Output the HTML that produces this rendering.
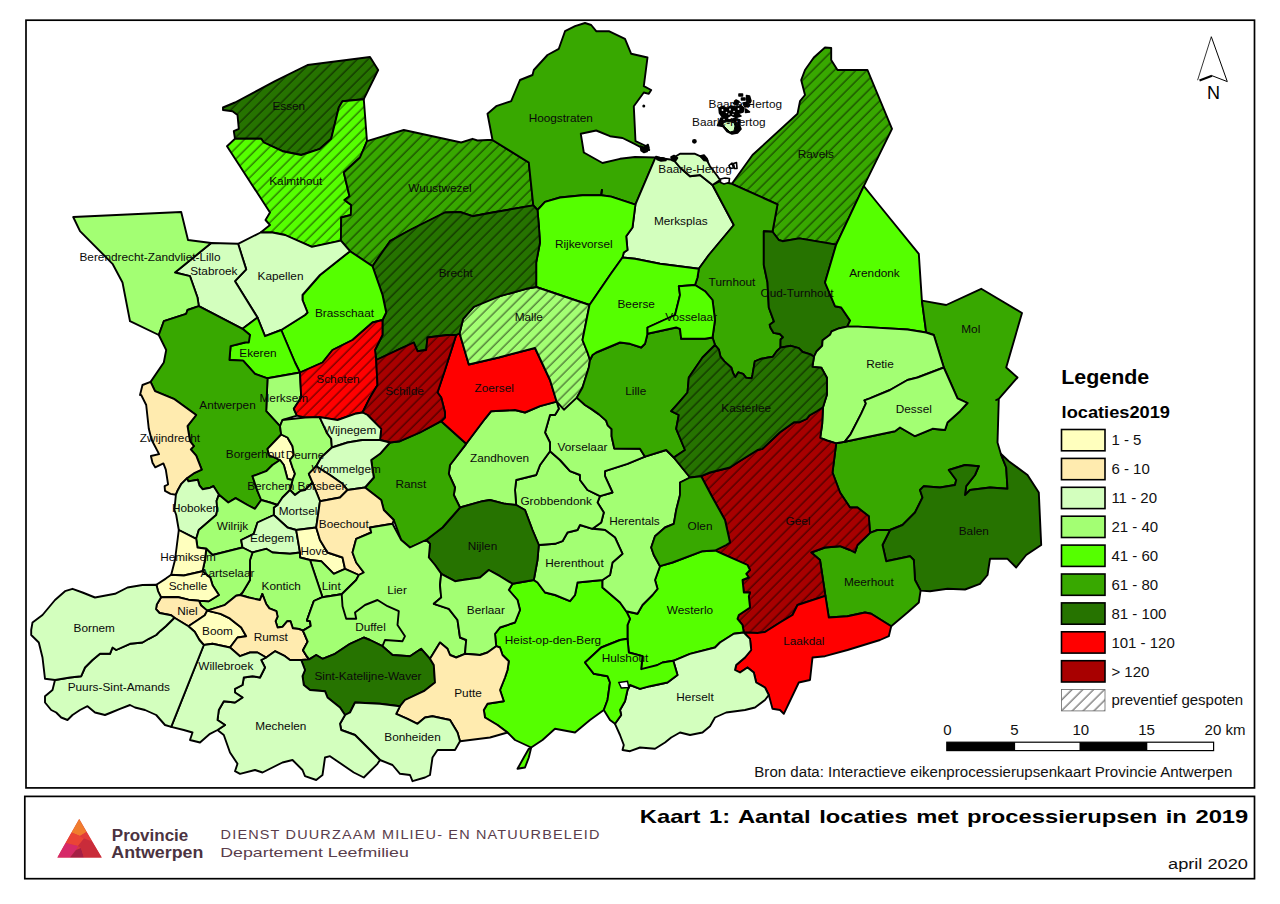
<!DOCTYPE html>
<html><head><meta charset="utf-8"><title>Kaart 1</title>
<style>html,body{margin:0;padding:0;background:#fff}svg{display:block}text{font-family:"Liberation Sans",sans-serif}</style>
</head><body>
<svg width="1280" height="904" viewBox="0 0 1280 904">
<defs>
<pattern id="h" width="7.67" height="7.67" patternUnits="userSpaceOnUse" patternTransform="rotate(45)"><line x1="3" y1="-1" x2="3" y2="9" stroke="#000" stroke-width="0.72"/></pattern>
<clipPath id="mapclip"><rect x="26" y="20" width="1229" height="768"/></clipPath>
</defs>
<rect width="1280" height="904" fill="#fff"/>
<g stroke="#000" stroke-width="1.9" stroke-linejoin="round">
<polygon points="223.0,107.5 235.0,102.5 275.0,81.2 307.5,65.0 370.0,57.0 378.2,70.0 363.8,99.2 342.5,101.2 338.8,107.5 331.2,138.8 320.0,148.8 301.2,155.0 282.5,151.2 263.8,142.5 261.2,138.8 235.0,138.8 233.8,131.2 238.8,128.8 237.5,115.0 232.5,111.2 223.0,110.0" fill="#267300"/>
<polygon points="223.0,107.5 235.0,102.5 275.0,81.2 307.5,65.0 370.0,57.0 378.2,70.0 363.8,99.2 342.5,101.2 338.8,107.5 331.2,138.8 320.0,148.8 301.2,155.0 282.5,151.2 263.8,142.5 261.2,138.8 235.0,138.8 233.8,131.2 238.8,128.8 237.5,115.0 232.5,111.2 223.0,110.0" fill="url(#h)" stroke="none"/>
<polygon points="227.0,146.2 235.0,138.8 261.2,138.8 263.8,142.5 282.5,151.2 301.2,155.0 320.0,148.8 331.2,138.8 338.8,107.5 342.5,101.2 363.8,99.2 367.0,141.2 360.0,157.5 343.8,172.5 349.5,196.2 344.5,200.0 351.2,205.0 350.8,215.0 341.2,217.5 340.9,240.6 311.9,246.9 285.0,235.0 272.5,232.5 260.6,232.5 270.0,225.0 265.5,220.0 270.0,212.5" fill="#55FF00"/>
<polygon points="227.0,146.2 235.0,138.8 261.2,138.8 263.8,142.5 282.5,151.2 301.2,155.0 320.0,148.8 331.2,138.8 338.8,107.5 342.5,101.2 363.8,99.2 367.0,141.2 360.0,157.5 343.8,172.5 349.5,196.2 344.5,200.0 351.2,205.0 350.8,215.0 341.2,217.5 340.9,240.6 311.9,246.9 285.0,235.0 272.5,232.5 260.6,232.5 270.0,225.0 265.5,220.0 270.0,212.5" fill="url(#h)" stroke="none"/>
<polygon points="343.8,172.5 360.0,157.5 367.0,141.2 403.8,130.0 461.2,142.5 472.5,138.8 477.5,140.5 487.5,140.0 492.5,140.0 528.8,162.5 533.3,205.4 492.5,212.5 472.5,216.2 460.0,212.0 445.0,212.5 410.0,230.0 390.0,241.2 372.5,266.2 350.0,251.2 340.9,240.6 341.2,217.5 350.8,215.0 351.2,205.0 344.5,200.0 349.5,196.2" fill="#38A800"/>
<polygon points="343.8,172.5 360.0,157.5 367.0,141.2 403.8,130.0 461.2,142.5 472.5,138.8 477.5,140.5 487.5,140.0 492.5,140.0 528.8,162.5 533.3,205.4 492.5,212.5 472.5,216.2 460.0,212.0 445.0,212.5 410.0,230.0 390.0,241.2 372.5,266.2 350.0,251.2 340.9,240.6 341.2,217.5 350.8,215.0 351.2,205.0 344.5,200.0 349.5,196.2" fill="url(#h)" stroke="none"/>
<polygon points="487.5,113.8 496.2,106.2 511.2,101.2 520.0,80.0 532.5,75.0 533.8,70.0 547.5,55.0 558.8,48.8 565.0,31.2 575.0,26.2 585.0,23.0 591.2,25.0 596.2,31.2 608.8,31.2 625.0,38.8 631.2,53.8 647.5,57.5 643.8,86.2 651.2,90.0 648.8,93.8 643.8,92.5 633.8,106.2 635.5,141.2 645.0,145.5 649.2,150.0 645.0,149.5 635.0,144.2 622.5,138.0 610.0,136.2 596.2,130.5 580.8,133.8 583.8,152.5 602.5,163.0 620.0,158.8 635.0,157.0 655.5,157.5 635.4,204.7 611.2,196.6 601.2,195.2 601.9,190.0 601.2,195.2 582.5,195.2 560.0,197.5 545.0,201.9 537.5,210.0 533.3,205.4 528.8,162.5 492.5,140.0" fill="#38A800"/>
<polygon points="655.5,157.5 673.8,160.0 680.0,167.5 690.0,176.2 700.0,175.0 712.5,185.0 733.8,225.0 708.8,255.0 698.8,268.8 660.0,263.8 635.0,258.8 622.5,257.5 623.8,252.5 627.5,250.0 626.2,236.2 632.5,227.5 635.4,204.7" fill="#D3FFBE"/>
<polygon points="537.5,210.0 545.0,201.9 560.0,197.5 582.5,195.2 601.2,195.2 601.9,190.0 601.2,195.2 611.2,196.6 635.4,204.7 632.5,227.5 626.2,236.2 627.5,250.0 623.8,252.5 622.5,257.5 610.0,275.0 589.5,305.0 536.2,287.0 536.2,262.5 540.0,242.5 538.8,225.0" fill="#55FF00"/>
<polygon points="731.9,183.8 752.5,155.0 797.5,113.8 800.0,101.2 805.0,95.0 801.2,80.0 805.0,70.0 813.8,57.5 825.0,47.5 831.2,48.0 831.2,60.0 837.5,70.0 867.5,70.0 892.0,128.8 863.8,186.2 836.2,244.6 799.4,238.4 782.5,241.2 778.8,240.0 772.5,231.7 777.5,204.4" fill="#38A800"/>
<polygon points="731.9,183.8 752.5,155.0 797.5,113.8 800.0,101.2 805.0,95.0 801.2,80.0 805.0,70.0 813.8,57.5 825.0,47.5 831.2,48.0 831.2,60.0 837.5,70.0 867.5,70.0 892.0,128.8 863.8,186.2 836.2,244.6 799.4,238.4 782.5,241.2 778.8,240.0 772.5,231.7 777.5,204.4" fill="url(#h)" stroke="none"/>
<polygon points="712.5,185.0 720.0,181.2 731.9,183.8 777.5,204.4 772.5,231.7 763.8,231.2 763.8,265.0 767.5,282.5 768.8,307.5 774.0,321.6 769.7,324.7 770.5,327.8 773.6,332.9 779.8,334.0 783.0,337.2 780.6,339.5 780.5,347.6 776.7,351.2 772.8,356.7 768.1,357.5 760.3,359.0 754.8,361.4 752.5,374.7 751.7,378.2 746.2,377.8 743.1,373.9 738.4,372.3 735.3,377.0 733.0,373.1 731.4,367.7 724.4,361.4 720.5,356.7 718.9,349.7 715.0,345.0 712.5,337.5 715.0,320.0 712.5,300.0 705.0,291.2 695.0,285.0 697.5,277.5 698.8,268.8 708.8,255.0 733.8,225.0" fill="#38A800"/>
<polygon points="763.8,231.2 772.5,231.7 778.8,240.0 782.5,241.2 799.4,238.4 836.2,244.6 825.0,282.5 835.0,306.2 841.2,307.5 850.1,320.6 847.2,326.6 839.4,328.2 831.6,331.3 830.0,334.8 822.6,340.3 822.2,345.8 816.7,351.2 814.0,356.7 810.5,354.4 802.7,352.0 798.8,348.1 790.9,345.8 780.5,347.6 780.6,339.5 783.0,337.2 779.8,334.0 773.6,332.9 770.5,327.8 769.7,324.7 774.0,321.6 768.8,307.5 767.5,282.5 763.8,265.0" fill="#267300"/>
<polygon points="863.8,186.2 875.0,200.0 918.8,253.8 921.9,300.6 926.2,332.5 907.5,329.5 858.1,326.6 847.2,326.6 850.1,320.6 841.2,307.5 835.0,306.2 825.0,282.5 836.2,244.6" fill="#55FF00"/>
<polygon points="921.9,300.6 946.2,305.0 981.2,288.8 1022.0,313.0 1006.2,367.5 1017.5,377.5 998.8,398.8 996.2,400.0 998.8,398.8 997.5,442.5 1000.8,453.8 1006.2,467.5 1007.5,488.8 990.0,487.5 970.0,490.0 965.0,495.0 966.2,486.2 975.0,475.0 978.8,466.2 965.0,465.0 948.8,470.0 956.2,480.0 955.0,485.0 940.0,487.5 923.8,486.2 920.0,490.0 922.5,497.5 915.0,512.5 902.5,525.0 890.0,530.0 877.5,530.0 870.0,532.9 868.8,516.2 857.5,507.5 850.0,507.5 840.0,492.5 832.5,472.5 836.2,443.3 844.8,441.7 895.0,431.2 900.0,427.5 915.0,436.2 932.5,428.8 945.0,430.0 947.5,422.5 960.0,411.2 967.5,403.0 957.5,398.3 943.8,367.5 933.8,335.0 926.2,332.5" fill="#38A800"/>
<polygon points="814.0,356.7 816.7,351.2 822.2,345.8 822.6,340.3 830.0,334.8 831.6,331.3 839.4,328.2 847.2,326.6 858.1,326.6 907.5,329.5 926.2,332.5 933.8,335.0 943.8,367.5 917.5,377.5 907.5,380.0 890.0,390.0 869.8,398.4 864.4,400.3 865.9,403.4 861.2,413.6 850.3,434.7 844.8,441.7 836.2,443.3 826.9,440.5 820.2,437.8 822.2,423.8 823.0,407.3 826.9,394.8 826.9,377.8 821.4,367.7 812.4,366.9" fill="#A3FF73"/>
<polygon points="943.8,367.5 957.5,398.3 967.5,403.0 960.0,411.2 947.5,422.5 945.0,430.0 932.5,428.8 915.0,436.2 900.0,427.5 895.0,431.2 844.8,441.7 850.3,434.7 861.2,413.6 865.9,403.4 864.4,400.3 869.8,398.4 890.0,390.0 907.5,380.0 917.5,377.5" fill="#A3FF73"/>
<polygon points="890.0,530.0 882.5,545.0 886.2,561.2 910.0,556.2 913.8,560.0 915.0,580.0 920.6,590.6 930.0,591.2 947.5,588.8 965.0,589.5 980.0,583.8 987.5,575.0 990.0,558.8 1007.5,558.8 1016.2,567.5 1026.2,555.0 1041.2,545.0 1038.8,492.5 1027.5,475.0 1008.8,461.2 1000.8,453.8 1006.2,467.5 1007.5,488.8 990.0,487.5 970.0,490.0 965.0,495.0 966.2,486.2 975.0,475.0 978.8,466.2 965.0,465.0 948.8,470.0 956.2,480.0 955.0,485.0 940.0,487.5 923.8,486.2 920.0,490.0 922.5,497.5 915.0,512.5 902.5,525.0" fill="#267300"/>
<polygon points="811.2,552.5 825.0,547.5 840.0,546.2 850.0,550.0 855.0,552.5 857.5,545.0 870.0,532.9 877.5,530.0 890.0,530.0 882.5,545.0 886.2,561.2 910.0,556.2 913.8,560.0 915.0,580.0 920.6,590.6 918.8,602.5 907.5,612.5 891.2,626.2 871.2,613.8 865.0,612.5 847.5,616.2 828.8,617.5 825.4,595.8 820.0,560.0" fill="#38A800"/>
<polygon points="701.2,476.2 710.0,472.5 730.0,467.5 737.5,462.5 757.5,450.0 762.5,448.8 780.0,432.3 794.0,422.2 799.5,422.2 806.6,419.0 809.7,415.2 816.7,411.2 823.0,407.3 822.2,423.8 820.2,437.8 826.9,440.5 836.2,443.3 832.5,472.5 840.0,492.5 850.0,507.5 857.5,507.5 868.8,516.2 870.0,532.9 857.5,545.0 855.0,552.5 850.0,550.0 840.0,546.2 825.0,547.5 811.2,552.5 820.0,560.0 825.4,595.8 797.5,605.0 792.5,615.0 780.0,622.5 765.0,632.0 757.5,633.0 743.8,632.5 742.5,625.0 737.5,618.8 738.8,615.0 750.0,607.5 748.8,596.2 750.0,592.5 743.8,592.5 742.5,580.0 748.8,577.5 746.2,573.8 750.0,570.0 747.5,565.0 722.5,553.8 715.0,550.5 726.2,545.0 730.0,542.5 725.0,520.0 712.5,497.5" fill="#A80000"/>
<polygon points="701.2,476.2 710.0,472.5 730.0,467.5 737.5,462.5 757.5,450.0 762.5,448.8 780.0,432.3 794.0,422.2 799.5,422.2 806.6,419.0 809.7,415.2 816.7,411.2 823.0,407.3 822.2,423.8 820.2,437.8 826.9,440.5 836.2,443.3 832.5,472.5 840.0,492.5 850.0,507.5 857.5,507.5 868.8,516.2 870.0,532.9 857.5,545.0 855.0,552.5 850.0,550.0 840.0,546.2 825.0,547.5 811.2,552.5 820.0,560.0 825.4,595.8 797.5,605.0 792.5,615.0 780.0,622.5 765.0,632.0 757.5,633.0 743.8,632.5 742.5,625.0 737.5,618.8 738.8,615.0 750.0,607.5 748.8,596.2 750.0,592.5 743.8,592.5 742.5,580.0 748.8,577.5 746.2,573.8 750.0,570.0 747.5,565.0 722.5,553.8 715.0,550.5 726.2,545.0 730.0,542.5 725.0,520.0 712.5,497.5" fill="url(#h)" stroke="none"/>
<polygon points="743.8,632.5 757.5,633.0 765.0,632.0 780.0,622.5 792.5,615.0 797.5,605.0 825.4,595.8 828.8,617.5 847.5,616.2 865.0,612.5 871.2,613.8 891.2,626.2 888.8,636.2 880.0,640.0 847.5,650.0 825.0,656.2 812.5,657.5 810.0,680.0 798.8,682.5 783.8,713.8 780.0,710.0 772.5,708.8 768.8,695.0 765.0,687.5 756.2,682.5 753.8,672.5 747.5,667.5 740.0,672.5 735.0,670.0 736.2,665.0 745.0,657.5 751.2,650.0 750.0,638.8" fill="#FF0000"/>
<polygon points="660.0,566.2 672.5,562.5 702.5,551.2 715.0,550.5 722.5,553.8 747.5,565.0 750.0,570.0 746.2,573.8 748.8,577.5 742.5,580.0 743.8,592.5 750.0,592.5 748.8,596.2 750.0,607.5 738.8,615.0 737.5,618.8 742.5,625.0 743.8,632.5 733.8,633.8 720.0,642.5 715.0,647.5 690.0,653.8 673.3,660.8 662.5,662.5 657.5,665.0 645.0,671.2 641.2,669.2 642.5,656.2 628.8,652.5 627.5,638.8 627.5,625.0 630.0,618.8 626.2,611.2 637.5,613.8 642.5,605.0 652.5,595.0 657.5,588.8 655.0,580.0" fill="#55FF00"/>
<polygon points="743.8,632.5 750.0,638.8 751.2,650.0 745.0,657.5 736.2,665.0 735.0,670.0 740.0,672.5 747.5,667.5 753.8,672.5 756.2,682.5 765.0,687.5 768.8,695.0 765.0,700.0 755.0,707.5 745.0,710.0 726.2,712.5 715.0,717.5 710.0,726.2 702.5,732.5 690.0,735.0 680.0,732.5 671.2,737.5 665.0,742.5 655.0,748.8 640.0,747.5 630.0,751.2 622.5,750.0 623.8,745.0 620.0,735.0 615.0,723.8 621.2,715.0 620.0,710.0 625.0,701.2 627.5,690.0 630.0,685.0 640.0,688.8 650.0,686.2 667.5,682.5 677.5,675.0 673.3,660.8 690.0,653.8 715.0,647.5 720.0,642.5 733.8,633.8" fill="#D3FFBE"/>
<polygon points="508.8,590.0 512.5,583.8 533.8,580.0 537.5,582.5 545.0,592.5 555.0,595.0 570.0,601.2 575.0,595.0 577.5,582.5 602.5,580.0 602.5,587.5 620.0,602.5 626.2,611.2 630.0,618.8 627.5,625.0 627.5,638.8 620.0,640.0 601.2,647.5 585.0,662.5 593.8,673.8 607.5,676.2 610.0,682.5 607.5,700.0 603.8,710.0 590.0,720.0 575.0,732.5 555.0,728.8 542.5,740.0 531.2,747.5 515.0,740.0 507.5,732.5 497.5,725.0 485.0,717.5 483.8,710.0 487.5,703.8 503.8,701.2 500.0,690.0 505.0,677.5 507.5,670.0 508.8,661.2 502.5,655.0 500.0,647.5 496.2,646.2 495.0,633.8 500.0,627.5 515.0,622.5 520.0,610.0 517.5,600.0" fill="#55FF00"/>
<polygon points="531.2,747.5 528.8,757.5 525.0,767.5 517.5,768.8 523.8,757.5 528.8,748.8" fill="#55FF00"/>
<polygon points="585.0,662.5 601.2,647.5 620.0,640.0 627.5,638.8 628.8,652.5 642.5,656.2 641.2,669.2 657.5,665.0 662.5,662.5 673.3,660.8 677.5,675.0 667.5,682.5 650.0,686.2 640.0,688.8 630.0,685.0 627.5,690.0 625.0,701.2 620.0,710.0 621.2,715.0 615.0,723.8 610.0,720.0 603.8,710.0 607.5,700.0 610.0,682.5 607.5,676.2 593.8,673.8" fill="#55FF00"/>
<polygon points="645.0,456.7 666.2,450.0 673.8,457.5 690.0,477.5 680.0,482.5 680.0,495.0 676.2,510.0 673.8,523.8 665.0,527.5 655.0,536.2 651.2,547.5 653.8,555.0 660.0,566.2 655.0,580.0 657.5,588.8 652.5,595.0 642.5,605.0 637.5,613.8 626.2,611.2 620.0,602.5 602.5,587.5 602.5,580.0 610.0,575.0 612.5,562.5 622.5,553.8 615.0,537.5 605.0,530.0 592.5,528.8 601.2,522.5 603.8,512.5 597.5,502.5 600.0,496.2 612.5,492.5 605.0,476.2 605.0,471.2 627.5,463.8" fill="#A3FF73"/>
<polygon points="538.8,545.0 555.0,543.8 562.5,541.2 567.5,532.5 577.5,530.0 580.0,525.0 592.5,528.8 605.0,530.0 615.0,537.5 622.5,553.8 612.5,562.5 610.0,575.0 602.5,580.0 577.5,582.5 575.0,595.0 570.0,601.2 555.0,595.0 545.0,592.5 537.5,582.5 533.8,580.0 537.5,560.0" fill="#A3FF73"/>
<polygon points="550.0,451.2 560.0,460.0 570.0,471.2 580.0,475.0 580.0,480.0 587.5,490.0 600.0,496.2 597.5,502.5 603.8,512.5 601.2,522.5 592.5,528.8 580.0,525.0 577.5,530.0 567.5,532.5 562.5,541.2 555.0,543.8 538.8,545.0 532.5,530.0 525.0,510.0 516.2,505.0 515.0,490.0 516.2,480.0 536.2,475.0 540.0,465.0" fill="#A3FF73"/>
<polygon points="556.7,401.7 565.0,405.0 576.8,397.6 585.0,405.0 591.2,408.9 599.0,414.4 606.1,420.6 607.7,425.3 611.6,429.2 611.6,436.2 614.3,448.6 640.0,448.8 645.0,456.7 627.5,463.8 605.0,471.2 605.0,476.2 612.5,492.5 600.0,496.2 587.5,490.0 580.0,480.0 580.0,475.0 570.0,471.2 560.0,460.0 550.0,451.2 550.0,442.5 545.0,432.5 550.0,415.0 555.0,415.0 558.8,408.8" fill="#A3FF73"/>
<polygon points="466.2,443.8 485.0,418.8 491.2,411.2 515.0,410.0 525.0,412.5 540.0,406.2 556.7,401.7 558.8,408.8 555.0,415.0 550.0,415.0 545.0,432.5 550.0,442.5 550.0,451.2 540.0,465.0 536.2,475.0 516.2,480.0 515.0,490.0 516.2,505.0 505.0,503.8 490.0,500.0 482.5,501.2 460.0,507.5 453.8,495.0 455.0,487.5 448.8,473.8 450.0,465.0" fill="#A3FF73"/>
<polygon points="460.0,507.5 482.5,501.2 490.0,500.0 505.0,503.8 516.2,505.0 525.0,510.0 532.5,530.0 538.8,545.0 537.5,560.0 533.8,580.0 512.5,583.8 500.0,576.2 488.8,570.0 480.0,577.5 462.5,580.0 455.0,581.2 441.2,573.8 435.0,565.0 428.8,557.5 430.0,543.8 426.2,540.0 442.5,527.5" fill="#267300"/>
<polygon points="441.2,421.2 466.2,443.8 450.0,465.0 448.8,473.8 455.0,487.5 453.8,495.0 460.0,507.5 442.5,527.5 426.2,540.0 410.0,547.5 401.2,540.0 393.8,520.0 383.8,510.0 381.2,500.0 365.0,487.5 373.8,477.5 371.2,460.0 380.0,453.8 390.0,442.5 400.0,441.2 420.0,432.5" fill="#38A800"/>
<polygon points="459.6,333.3 468.8,364.5 498.8,357.5 535.0,348.0 550.0,380.0 556.7,401.7 540.0,406.2 525.0,412.5 515.0,410.0 491.2,411.2 485.0,418.8 466.2,443.8 441.2,421.2 445.0,417.5 445.0,412.5 445.0,417.5 445.0,412.5 441.2,397.5 437.5,392.5 445.0,370.0 456.2,335.0" fill="#FF0000"/>
<polygon points="536.2,287.0 589.5,305.0 582.5,340.0 587.5,352.5 590.0,360.0 588.8,367.5 582.5,387.5 576.8,397.6 563.9,409.7 556.7,401.7 550.0,380.0 535.0,348.0 498.8,357.5 468.8,364.5 459.6,333.3 463.1,318.8 473.8,306.9 490.0,297.5 500.0,296.2 526.2,288.8" fill="#A3FF73"/>
<polygon points="536.2,287.0 589.5,305.0 582.5,340.0 587.5,352.5 590.0,360.0 588.8,367.5 582.5,387.5 576.8,397.6 563.9,409.7 556.7,401.7 550.0,380.0 535.0,348.0 498.8,357.5 468.8,364.5 459.6,333.3 463.1,318.8 473.8,306.9 490.0,297.5 500.0,296.2 526.2,288.8" fill="url(#h)" stroke="none"/>
<polygon points="592.5,355.0 596.2,352.5 620.0,342.5 630.0,343.8 641.2,347.5 645.0,343.8 647.5,333.8 676.2,327.5 680.0,328.8 681.2,338.8 705.0,338.8 712.5,337.5 715.0,345.0 709.5,350.5 702.5,357.5 688.8,377.5 687.5,392.5 678.8,402.5 671.2,411.2 678.8,415.0 676.2,428.8 685.0,450.0 673.8,457.5 666.2,450.0 645.0,456.7 640.0,448.8 614.3,448.6 611.6,436.2 611.6,429.2 607.7,425.3 606.1,420.6 599.0,414.4 591.2,408.9 585.0,405.0 576.8,397.6 582.5,387.5 588.8,367.5 590.0,360.0" fill="#38A800"/>
<polygon points="715.0,345.0 718.9,349.7 720.5,356.7 724.4,361.4 731.4,367.7 733.0,373.1 735.3,377.0 738.4,372.3 743.1,373.9 746.2,377.8 751.7,378.2 752.5,374.7 754.8,361.4 760.3,359.0 768.1,357.5 772.8,356.7 776.7,351.2 780.5,347.6 790.9,345.8 798.8,348.1 802.7,352.0 810.5,354.4 814.0,356.7 812.4,366.9 821.4,367.7 826.9,377.8 826.9,394.8 823.0,407.3 816.7,411.2 809.7,415.2 806.6,419.0 799.5,422.2 794.0,422.2 780.0,432.3 762.5,448.8 757.5,450.0 737.5,462.5 730.0,467.5 710.0,472.5 701.2,476.2 690.0,477.5 673.8,457.5 685.0,450.0 676.2,428.8 678.8,415.0 671.2,411.2 678.8,402.5 687.5,392.5 688.8,377.5 702.5,357.5 709.5,350.5" fill="#267300"/>
<polygon points="715.0,345.0 718.9,349.7 720.5,356.7 724.4,361.4 731.4,367.7 733.0,373.1 735.3,377.0 738.4,372.3 743.1,373.9 746.2,377.8 751.7,378.2 752.5,374.7 754.8,361.4 760.3,359.0 768.1,357.5 772.8,356.7 776.7,351.2 780.5,347.6 790.9,345.8 798.8,348.1 802.7,352.0 810.5,354.4 814.0,356.7 812.4,366.9 821.4,367.7 826.9,377.8 826.9,394.8 823.0,407.3 816.7,411.2 809.7,415.2 806.6,419.0 799.5,422.2 794.0,422.2 780.0,432.3 762.5,448.8 757.5,450.0 737.5,462.5 730.0,467.5 710.0,472.5 701.2,476.2 690.0,477.5 673.8,457.5 685.0,450.0 676.2,428.8 678.8,415.0 671.2,411.2 678.8,402.5 687.5,392.5 688.8,377.5 702.5,357.5 709.5,350.5" fill="url(#h)" stroke="none"/>
<polygon points="690.0,477.5 701.2,476.2 712.5,497.5 725.0,520.0 730.0,542.5 726.2,545.0 715.0,550.5 702.5,551.2 672.5,562.5 660.0,566.2 653.8,555.0 651.2,547.5 655.0,536.2 665.0,527.5 673.8,523.8 676.2,510.0 680.0,495.0 680.0,482.5" fill="#38A800"/>
<polygon points="622.5,257.5 635.0,258.8 660.0,263.8 698.8,268.8 697.5,277.5 695.0,285.0 678.8,286.2 680.0,295.0 675.0,315.0 647.5,327.5 647.5,333.8 645.0,343.8 641.2,347.5 630.0,343.8 620.0,342.5 596.2,352.5 592.5,355.0 590.0,360.0 587.5,352.5 582.5,340.0 589.5,305.0 610.0,275.0" fill="#55FF00"/>
<polygon points="678.8,286.2 695.0,285.0 705.0,291.2 712.5,300.0 715.0,320.0 712.5,337.5 705.0,338.8 681.2,338.8 680.0,328.8 676.2,327.5 647.5,333.8 647.5,327.5 675.0,315.0 680.0,295.0" fill="#55FF00"/>
<polygon points="372.5,266.2 390.0,241.2 410.0,230.0 445.0,212.5 460.0,212.0 472.5,216.2 492.5,212.5 533.3,205.4 537.5,210.0 538.8,225.0 540.0,242.5 536.2,262.5 536.2,287.0 526.2,288.8 500.0,296.2 473.8,306.9 463.1,318.8 459.6,333.3 456.2,335.0 447.5,335.0 427.5,337.5 426.2,350.0 417.5,351.2 413.8,342.5 400.0,348.8 376.2,360.0 375.0,350.0 382.5,335.0 382.5,320.0 386.2,312.5 382.5,295.0" fill="#267300"/>
<polygon points="372.5,266.2 390.0,241.2 410.0,230.0 445.0,212.5 460.0,212.0 472.5,216.2 492.5,212.5 533.3,205.4 537.5,210.0 538.8,225.0 540.0,242.5 536.2,262.5 536.2,287.0 526.2,288.8 500.0,296.2 473.8,306.9 463.1,318.8 459.6,333.3 456.2,335.0 447.5,335.0 427.5,337.5 426.2,350.0 417.5,351.2 413.8,342.5 400.0,348.8 376.2,360.0 375.0,350.0 382.5,335.0 382.5,320.0 386.2,312.5 382.5,295.0" fill="url(#h)" stroke="none"/>
<polygon points="350.0,251.2 372.5,266.2 382.5,295.0 386.2,312.5 382.5,320.0 372.5,322.5 352.5,340.0 332.5,350.0 322.5,362.5 300.0,372.5 295.0,362.5 281.2,330.0 305.0,315.0 307.5,312.5 302.5,300.0 302.5,295.0 320.0,275.0" fill="#55FF00"/>
<polygon points="238.1,243.8 260.6,232.5 272.5,232.5 285.0,235.0 311.9,246.9 340.9,240.6 350.0,251.2 320.0,275.0 302.5,295.0 302.5,300.0 307.5,312.5 305.0,315.0 281.2,330.0 265.0,336.2 257.5,317.5 235.0,281.2 246.2,269.4" fill="#D3FFBE"/>
<polygon points="211.2,243.0 238.1,243.8 246.2,269.4 235.0,281.2 257.5,317.5 242.5,328.8 198.8,306.2 197.5,297.5 190.0,276.2 175.0,272.5 195.0,256.2" fill="#D3FFBE"/>
<polygon points="73.2,217.0 181.2,212.0 188.0,240.0 211.2,243.0 195.0,256.2 175.0,272.5 190.0,276.2 197.5,297.5 198.8,306.2 187.5,310.0 186.2,313.8 163.8,321.2 158.8,335.0 130.0,321.2 122.5,282.5 112.5,263.8 80.0,231.2" fill="#A3FF73"/>
<polygon points="242.5,328.8 257.5,317.5 265.0,336.2 281.2,330.0 295.0,362.5 300.0,372.5 267.5,378.3 255.0,373.8 243.1,360.6 229.4,360.0 230.6,346.2 245.0,342.5 250.0,335.0" fill="#55FF00"/>
<polygon points="267.5,378.3 300.0,372.5 301.2,397.5 293.8,408.8 296.9,415.6 282.5,420.0 280.0,426.2 266.2,411.2" fill="#A3FF73"/>
<polygon points="300.0,372.5 322.5,362.5 332.5,350.0 352.5,340.0 372.5,322.5 382.5,320.0 382.5,335.0 375.0,350.0 376.2,360.0 377.5,385.0 370.0,397.5 362.5,412.5 355.0,413.8 337.5,420.0 319.6,417.1 305.0,417.5 296.9,415.6 293.8,408.8 301.2,397.5" fill="#FF0000"/>
<polygon points="300.0,372.5 322.5,362.5 332.5,350.0 352.5,340.0 372.5,322.5 382.5,320.0 382.5,335.0 375.0,350.0 376.2,360.0 377.5,385.0 370.0,397.5 362.5,412.5 355.0,413.8 337.5,420.0 319.6,417.1 305.0,417.5 296.9,415.6 293.8,408.8 301.2,397.5" fill="url(#h)" stroke="none"/>
<polygon points="376.2,360.0 400.0,348.8 413.8,342.5 417.5,351.2 426.2,350.0 427.5,337.5 447.5,335.0 456.2,335.0 445.0,370.0 437.5,392.5 441.2,397.5 445.0,412.5 445.0,417.5 445.0,412.5 445.0,417.5 441.2,421.2 420.0,432.5 400.0,441.2 390.0,442.5 380.0,440.0 381.2,428.8 367.5,415.0 362.5,412.5 370.0,397.5 377.5,385.0" fill="#A80000"/>
<polygon points="376.2,360.0 400.0,348.8 413.8,342.5 417.5,351.2 426.2,350.0 427.5,337.5 447.5,335.0 456.2,335.0 445.0,370.0 437.5,392.5 441.2,397.5 445.0,412.5 445.0,417.5 445.0,412.5 445.0,417.5 441.2,421.2 420.0,432.5 400.0,441.2 390.0,442.5 380.0,440.0 381.2,428.8 367.5,415.0 362.5,412.5 370.0,397.5 377.5,385.0" fill="url(#h)" stroke="none"/>
<polygon points="158.8,335.0 163.8,321.2 186.2,313.8 187.5,310.0 198.8,306.2 242.5,328.8 250.0,335.0 248.8,342.5 245.0,342.5 230.6,346.2 229.4,360.0 243.1,360.6 255.0,373.8 267.5,378.3 266.2,411.2 280.0,426.2 281.2,434.5 267.5,448.8 268.8,455.0 280.0,460.0 272.5,465.0 266.2,471.2 252.5,476.2 257.5,491.2 261.2,500.0 255.0,508.8 247.5,505.0 235.6,498.1 228.3,502.5 218.9,494.7 213.4,486.1 210.3,487.7 202.5,489.2 199.4,485.3 197.8,479.8 188.4,481.4 186.9,478.3 194.7,472.8 201.7,469.7 196.2,455.6 190.8,449.4 193.9,446.2 190.0,441.2 187.5,426.2 196.2,415.0 173.8,398.8 155.0,391.2 150.6,381.9 163.8,362.5 166.2,350.0" fill="#38A800"/>
<polygon points="150.6,381.9 142.5,385.0 140.0,395.0 141.2,395.0 146.2,405.0 148.8,428.8 151.7,440.0 159.1,454.1 150.9,456.0 152.5,462.7 155.2,467.3 163.4,463.4 165.8,469.7 168.1,484.5 164.6,486.1 165.0,490.8 170.5,493.9 175.9,494.7 177.5,490.8 181.4,483.8 186.9,478.3 194.7,472.8 201.7,469.7 196.2,455.6 190.8,449.4 193.9,446.2 190.0,441.2 187.5,426.2 196.2,415.0 173.8,398.8 155.0,391.2" fill="#FFEBAF"/>
<polygon points="281.2,434.5 287.5,437.5 292.5,446.2 293.8,455.0 290.0,460.0 292.5,467.5 295.0,473.8 292.5,480.0 287.5,478.8 283.8,465.0 280.0,460.0 268.8,455.0 267.5,448.8" fill="#FFFFBE"/>
<polygon points="282.5,420.0 305.0,417.5 319.6,417.1 327.5,433.8 331.2,438.8 331.9,447.5 321.2,457.5 316.2,466.2 308.8,473.8 312.5,482.5 305.0,490.0 300.0,491.2 295.0,495.0 290.0,490.0 292.5,480.0 295.0,473.8 292.5,467.5 290.0,460.0 293.8,455.0 292.5,446.2 287.5,437.5 281.2,434.5 280.0,426.2" fill="#A3FF73"/>
<polygon points="319.6,417.1 337.5,420.0 355.0,413.8 362.5,412.5 367.5,415.0 381.2,428.8 380.0,440.0 362.5,440.0 347.5,442.5 331.9,447.5 331.2,438.8 327.5,433.8" fill="#D3FFBE"/>
<polygon points="331.9,447.5 347.5,442.5 362.5,440.0 380.0,440.0 390.0,442.5 380.0,453.8 371.2,460.0 373.8,477.5 365.0,487.5 347.5,490.0 342.5,483.8 330.0,475.0 316.2,466.2 321.2,457.5" fill="#D3FFBE"/>
<polygon points="316.2,466.2 330.0,475.0 342.5,483.8 347.5,490.0 340.0,497.5 320.0,501.2 312.5,482.5 308.8,473.8" fill="#FFEBAF"/>
<polygon points="252.5,476.2 266.2,471.2 272.5,465.0 280.0,460.0 283.8,465.0 287.5,478.8 292.5,480.0 290.0,490.0 282.5,497.5 277.5,505.0 270.0,502.5 261.2,500.0 257.5,491.2" fill="#A3FF73"/>
<polygon points="277.5,505.0 282.5,497.5 290.0,490.0 295.0,495.0 300.0,491.2 305.0,490.0 312.5,482.5 320.0,501.2 316.2,527.5 296.2,530.0 287.5,527.5 273.8,515.0 273.8,507.5" fill="#D3FFBE"/>
<polygon points="186.9,478.3 188.4,481.4 197.8,479.8 199.4,485.3 202.5,489.2 210.3,487.7 213.4,486.1 218.9,494.7 216.6,500.9 217.3,510.0 216.2,515.0 198.8,530.0 196.2,538.8 178.8,530.0 176.2,515.0 174.4,510.0 175.9,494.7 177.5,490.8 181.4,483.8" fill="#D3FFBE"/>
<polygon points="218.9,494.7 228.3,502.5 235.6,498.1 247.5,505.0 255.0,508.8 261.2,500.0 270.0,502.5 277.5,505.0 273.8,507.5 273.8,515.0 257.5,522.5 253.8,533.8 241.2,540.0 242.5,547.5 212.5,555.0 206.2,548.8 197.5,547.5 196.2,538.8 198.8,530.0 216.2,515.0 217.3,510.0 216.6,500.9" fill="#A3FF73"/>
<polygon points="273.8,515.0 287.5,527.5 296.2,530.0 300.0,552.5 290.0,553.8 272.5,552.5 266.2,548.8 252.5,552.5 242.5,547.5 241.2,540.0 253.8,533.8 257.5,522.5" fill="#D3FFBE"/>
<polygon points="296.2,530.0 316.2,527.5 320.0,540.0 327.5,552.5 342.5,557.5 345.0,568.8 333.8,573.8 321.2,561.2 310.0,560.0 300.0,557.5 300.0,552.5" fill="#FFFFBE"/>
<polygon points="320.0,501.2 340.0,497.5 347.5,490.0 365.0,487.5 381.2,500.0 383.8,510.0 393.8,520.0 392.5,523.8 370.0,527.5 371.2,532.5 356.2,538.8 352.5,552.5 356.2,562.5 363.8,572.5 358.8,575.0 345.0,568.8 342.5,557.5 327.5,552.5 320.0,540.0 316.2,527.5" fill="#FFEBAF"/>
<polygon points="310.0,560.0 321.2,561.2 333.8,573.8 345.0,568.8 358.8,575.0 356.2,580.0 341.7,594.2 322.5,597.2" fill="#A3FF73"/>
<polygon points="252.5,552.5 266.2,548.8 272.5,552.5 290.0,553.8 300.0,552.5 300.0,557.5 310.0,560.0 322.5,597.2 313.9,601.0 310.8,609.5 306.9,620.5 310.0,621.2 310.8,626.0 303.0,630.6 299.0,629.0 292.8,628.3 290.5,621.2 287.3,621.2 282.7,626.7 277.6,627.5 275.6,621.2 277.6,616.6 276.4,611.1 269.4,608.4 266.2,604.0 262.3,593.9 260.0,600.0 248.8,597.5 240.0,595.0 242.5,592.5 250.0,580.0 250.0,560.0" fill="#A3FF73"/>
<polygon points="212.5,555.0 242.5,547.5 252.5,552.5 250.0,560.0 250.0,580.0 242.5,592.5 240.0,595.0 236.1,595.8 224.4,605.2 207.2,610.6 200.9,605.2 199.1,600.8 208.8,601.2 218.9,595.0 212.7,585.6 210.3,577.8 202.5,571.2 205.0,560.0 206.2,548.8" fill="#A3FF73"/>
<polygon points="178.8,530.0 196.2,538.8 197.5,547.5 206.2,548.8 205.0,560.0 202.5,571.2 183.8,575.5 171.2,574.7 175.0,560.0" fill="#FFFFBE"/>
<polygon points="156.4,584.8 165.8,578.6 171.2,574.7 183.8,575.5 202.5,571.2 210.3,577.8 212.7,585.6 218.9,595.0 208.8,601.2 199.1,600.8 188.4,599.7 177.5,597.0 161.1,597.3 158.0,591.1" fill="#FFFFBE"/>
<polygon points="161.1,597.3 177.5,597.0 188.4,599.7 199.1,600.8 200.9,605.2 207.2,610.6 204.8,615.3 197.8,620.0 188.4,626.2 174.4,617.7 171.2,615.3 159.5,613.0 156.0,609.1 156.8,604.4" fill="#FFEBAF"/>
<polygon points="207.2,610.6 220.5,613.8 229.8,618.4 241.2,627.5 246.2,636.2 237.5,637.5 230.0,647.5 212.5,643.8 203.8,645.0 199.4,640.0 194.7,631.7 188.4,626.2 197.8,620.0 204.8,615.3" fill="#FFFFBE"/>
<polygon points="207.2,610.6 224.4,605.2 236.1,595.8 240.0,595.0 248.8,597.5 260.0,600.0 262.3,593.9 266.2,604.0 269.4,608.4 276.4,611.1 277.6,616.6 275.6,621.2 277.6,627.5 282.7,626.7 287.3,621.2 290.5,621.2 292.8,628.3 299.0,629.0 303.0,630.6 307.7,641.6 303.0,650.2 306.9,656.4 309.2,659.4 301.2,660.0 290.0,660.0 285.0,656.2 275.0,651.2 266.2,657.5 257.5,652.5 250.0,652.5 240.0,656.2 230.0,647.5 237.5,637.5 246.2,636.2 241.2,627.5 229.8,618.4 220.5,613.8" fill="#FFEBAF"/>
<polygon points="392.5,523.8 401.2,540.0 410.0,547.5 426.2,540.0 430.0,543.8 428.8,557.5 435.0,565.0 441.2,573.8 440.0,585.0 441.2,597.5 433.8,603.8 448.8,608.8 457.5,620.0 460.0,637.5 466.2,640.0 465.0,653.8 456.2,657.5 450.0,655.0 447.5,648.8 440.0,642.5 430.0,658.8 421.2,648.8 410.0,656.2 392.5,655.0 382.5,646.2 370.0,640.0 363.8,637.5 350.0,643.8 335.0,653.8 322.5,658.8 316.2,655.0 309.2,659.4 306.9,656.4 303.0,650.2 307.7,641.6 303.0,630.6 310.8,626.0 310.0,621.2 306.9,620.5 310.8,609.5 313.9,601.0 322.5,597.2 341.7,594.2 356.2,580.0 358.8,575.0 363.8,572.5 356.2,562.5 352.5,552.5 356.2,538.8 371.2,532.5 370.0,527.5" fill="#A3FF73"/>
<polygon points="322.5,597.2 341.7,594.2 342.5,606.2 346.2,618.8 356.2,618.8 355.0,612.5 365.0,605.0 377.5,600.0 387.5,606.2 398.8,611.2 397.5,625.0 405.0,636.2 402.5,641.2 385.0,640.0 382.5,646.2 370.0,640.0 363.8,637.5 350.0,643.8 335.0,653.8 322.5,658.8 316.2,655.0 309.2,659.4 306.9,656.4 303.0,650.2 307.7,641.6 303.0,630.6 310.8,626.0 310.0,621.2 306.9,620.5 310.8,609.5 313.9,601.0" fill="#A3FF73"/>
<polygon points="441.2,573.8 455.0,581.2 462.5,580.0 480.0,577.5 488.8,570.0 500.0,576.2 512.5,583.8 508.8,590.0 517.5,600.0 520.0,610.0 515.0,622.5 500.0,627.5 495.0,633.8 496.2,646.2 487.5,652.5 480.0,655.0 465.0,653.8 466.2,640.0 460.0,637.5 457.5,620.0 448.8,608.8 433.8,603.8 441.2,597.5 440.0,585.0" fill="#A3FF73"/>
<polygon points="301.2,660.0 309.2,659.4 316.2,655.0 322.5,658.8 335.0,653.8 350.0,643.8 363.8,637.5 370.0,640.0 382.5,646.2 392.5,655.0 410.0,656.2 421.2,648.8 430.0,658.8 433.8,665.0 435.0,682.5 423.8,691.2 405.0,700.0 400.0,706.2 380.0,703.8 355.0,702.5 350.0,712.5 345.0,715.0 340.0,707.5 327.5,697.5 325.0,691.2 310.0,690.0 303.8,685.0 302.5,676.2 305.0,670.0" fill="#267300"/>
<polygon points="496.2,646.2 500.0,647.5 502.5,655.0 508.8,661.2 507.5,670.0 505.0,677.5 500.0,690.0 503.8,701.2 487.5,703.8 483.8,710.0 485.0,717.5 497.5,725.0 507.5,732.5 490.0,737.5 460.0,741.2 457.5,732.5 450.0,720.0 432.5,716.2 425.0,717.5 417.5,723.8 407.5,718.8 396.2,713.8 400.0,706.2 405.0,700.0 423.8,691.2 435.0,682.5 433.8,665.0 430.0,658.8 440.0,642.5 447.5,648.8 450.0,655.0 456.2,657.5 465.0,653.8 480.0,655.0 487.5,652.5" fill="#FFEBAF"/>
<polygon points="345.0,715.0 350.0,712.5 355.0,702.5 380.0,703.8 400.0,706.2 396.2,713.8 407.5,718.8 417.5,723.8 425.0,717.5 432.5,716.2 450.0,720.0 457.5,732.5 460.0,741.2 455.0,750.0 437.5,750.0 432.5,757.5 430.0,775.0 425.0,777.5 412.5,781.2 410.0,775.0 400.0,773.8 392.5,765.0 380.0,760.0 362.5,742.5 355.0,735.0 341.2,730.0 340.0,723.8" fill="#D3FFBE"/>
<polygon points="266.2,657.5 275.0,651.2 285.0,656.2 290.0,660.0 301.2,660.0 305.0,670.0 302.5,676.2 303.8,685.0 310.0,690.0 325.0,691.2 327.5,697.5 340.0,707.5 345.0,715.0 340.0,723.8 341.2,730.0 355.0,735.0 362.5,742.5 380.0,760.0 377.5,763.8 363.8,777.5 353.8,772.5 330.0,756.2 325.0,757.5 322.5,775.0 316.2,780.0 305.0,776.2 302.5,770.0 292.5,760.0 282.5,762.5 262.5,772.5 255.0,770.0 240.0,773.8 235.0,771.2 237.5,763.8 230.0,752.5 223.8,735.0 217.5,730.0 225.0,725.0 217.5,720.0 218.8,710.0 223.8,701.2 235.0,702.5 242.5,697.5 235.0,692.5 235.0,688.8 242.5,685.0 243.8,677.5 252.5,676.2 260.0,677.5 265.0,667.5 261.2,660.0" fill="#D3FFBE"/>
<polygon points="203.8,645.0 212.5,643.8 230.0,647.5 240.0,656.2 250.0,652.5 257.5,652.5 266.2,657.5 261.2,660.0 265.0,667.5 260.0,677.5 252.5,676.2 243.8,677.5 242.5,685.0 235.0,688.8 235.0,692.5 242.5,697.5 235.0,702.5 223.8,701.2 218.8,710.0 217.5,720.0 225.0,725.0 217.5,730.0 210.0,733.8 200.0,742.5 190.0,740.0 192.5,732.5 183.8,730.0 171.2,726.9" fill="#D3FFBE"/>
<polygon points="174.4,617.7 188.4,626.2 194.7,631.7 199.4,640.0 203.8,645.0 171.2,726.9 165.0,725.0 156.2,715.0 145.0,710.0 135.0,707.5 130.0,705.0 120.0,708.8 111.2,712.5 105.0,715.0 95.0,712.5 87.5,706.2 80.0,710.0 72.5,715.0 67.5,720.0 61.2,717.5 56.2,712.5 51.2,710.0 45.0,702.5 45.0,696.2 52.5,690.0 55.0,680.0 70.0,677.5 81.2,676.2 85.0,667.5 92.5,660.0 100.0,653.8 110.0,653.8 112.5,647.5 116.2,650.0 130.0,643.8 142.5,642.5 148.8,638.8 156.2,635.0 160.0,631.2 165.8,626.2" fill="#D3FFBE"/>
<polygon points="31.2,630.0 32.5,622.5 42.5,615.0 55.0,600.0 65.0,591.2 72.5,588.8 82.5,592.5 95.0,597.5 115.0,593.8 127.5,587.5 142.5,585.0 156.4,584.8 158.0,591.1 161.1,597.3 156.8,604.4 156.0,609.1 159.5,613.0 171.2,615.3 174.4,617.7 165.8,626.2 160.0,631.2 156.2,635.0 148.8,638.8 142.5,642.5 130.0,643.8 116.2,650.0 112.5,647.5 110.0,653.8 100.0,653.8 92.5,660.0 85.0,667.5 81.2,676.2 70.0,677.5 55.0,680.0 45.0,678.8 42.5,657.5 38.8,642.5 31.2,635.0" fill="#D3FFBE"/>
<polygon points="673.8,157.5 680.0,153.8 695.0,153.8 706.2,158.8 710.0,166.2 717.5,176.2 720.0,180.0 712.5,185.0 700.0,175.0 690.0,176.2 680.0,167.5 673.8,160.0" fill="#D3FFBE"/>
</g>
<!-- Hulshout hole -->
<polygon points="618.8,682.5 627.5,681.3 628.8,687.5 621.3,688" fill="#fff" stroke="#000" stroke-width="1.4"/>
<!-- Baarle-Hertog enclaves -->
<g fill="#000" stroke="#000" stroke-width="1.6" stroke-linejoin="round">
<polygon points="719,108 723,106.5 727,108.5 731,106 736,107 741,105.5 744,108 743,112 738,113.5 741,116 736,117.5 731,115 727,117.5 722,116.5 719.5,113"/>
<polygon points="721,118 726,117.5 729,120 735,118.5 740,120 739.5,125 741,129 737.5,133 732,134 727,131.5 723,126.5 717.5,125.5"/>
<polygon points="723.5,121.5 729,122 733.5,121.5 735,126 734,131 730,132 726,128 723,125" fill="#D3FFBE" stroke-width="1"/>
<polygon points="739,94 742.5,94 742.5,96 739,96"/>
<polygon points="741.5,98 745,98 745,100 741.5,100"/>
<polygon points="746.5,95.5 749.5,96 751,101 750,103 747,102"/>
<polygon points="743,103 748,102 749.5,106 745,107"/>
<polygon points="745.5,109 749.5,112 745.5,112.5"/>
<polygon points="736,100 739,101.5 737,105 733.5,103.5"/>
<circle cx="694.4" cy="141.3" r="1.6"/>
<circle cx="643.8" cy="106" r="0.7"/>
<polygon points="640.5,146 644,147.5 648,144.5 649,148 647,151.5 644,152.5 641,150.5"/>
<polygon points="656,156.5 660,157.5 664,158 666,160.5 661,161 657,159.5"/>
<polygon points="671,157 674,155.5 677.5,158 675,161.5 672,160.5"/>
<polygon points="700,156 704,155 707,158.5 708,161 704,160.5"/>
<polygon points="729,165.5 732,163 733.5,168 730,168.5" fill="#fff"/>
<polygon points="733.5,163.5 736.5,162.5 737,168.5 734.5,168.5" fill="#fff"/>
<polygon points="720.5,179 725,178 729.5,178.5 729,182.5 724,184 720.5,182.5" fill="#fff"/>
<g fill="#fff" stroke="none">
<circle cx="722.5" cy="110" r="0.9"/><circle cx="726.5" cy="112.5" r="0.8"/><circle cx="730" cy="109.5" r="0.9"/>
<circle cx="734" cy="111.5" r="0.8"/><circle cx="738.5" cy="109" r="0.9"/><circle cx="729" cy="114" r="0.7"/>
<circle cx="724" cy="119.5" r="0.7"/><circle cx="737" cy="121.5" r="0.8"/><circle cx="733" cy="114.5" r="0.7"/>
</g>
</g>

<g font-size="11.8" fill="#0a0a0a" text-anchor="middle">
<text x="288.8" y="110.2">Essen</text>
<text x="295.8" y="184.5">Kalmthout</text>
<text x="440.0" y="191.5">Wuustwezel</text>
<text x="560.8" y="122.2">Hoogstraten</text>
<text x="745.3" y="108.2">Baarle-Hertog</text>
<text x="728.8" y="126.0">Baarle-Hertog</text>
<text x="695.0" y="173.2">Baarle-Hertog</text>
<text x="815.8" y="157.8">Ravels</text>
<text x="680.8" y="224.8">Merksplas</text>
<text x="583.8" y="247.8">Rijkevorsel</text>
<text x="636.2" y="307.8">Beerse</text>
<text x="691.2" y="321.0">Vosselaar</text>
<text x="528.8" y="321.0">Malle</text>
<text x="635.8" y="394.5">Lille</text>
<text x="732.0" y="285.8">Turnhout</text>
<text x="797.0" y="297.0">Oud-Turnhout</text>
<text x="874.5" y="276.5">Arendonk</text>
<text x="970.8" y="332.8">Mol</text>
<text x="880.0" y="367.8">Retie</text>
<text x="913.8" y="412.8">Dessel</text>
<text x="746.2" y="412.0">Kasterlee</text>
<text x="798.0" y="525.2">Geel</text>
<text x="973.8" y="534.8">Balen</text>
<text x="868.8" y="586.0">Meerhout</text>
<text x="803.8" y="645.2">Laakdal</text>
<text x="690.0" y="614.0">Westerlo</text>
<text x="695.0" y="701.0">Herselt</text>
<text x="700.0" y="530.2">Olen</text>
<text x="634.5" y="525.2">Herentals</text>
<text x="582.5" y="450.8">Vorselaar</text>
<text x="499.5" y="462.2">Zandhoven</text>
<text x="556.2" y="505.2">Grobbendonk</text>
<text x="410.8" y="488.2">Ranst</text>
<text x="482.5" y="549.5">Nijlen</text>
<text x="574.5" y="566.5">Herenthout</text>
<text x="494.2" y="392.2">Zoersel</text>
<text x="404.5" y="394.5">Schilde</text>
<text x="338.0" y="383.2">Schoten</text>
<text x="455.8" y="277.2">Brecht</text>
<text x="344.5" y="316.5">Brasschaat</text>
<text x="280.5" y="280.2">Kapellen</text>
<text x="258.0" y="357.0">Ekeren</text>
<text x="283.8" y="402.0">Merksem</text>
<text x="150.0" y="261.0">Berendrecht-Zandvliet-Lillo</text>
<text x="213.8" y="274.5">Stabroek</text>
<text x="227.5" y="408.5">Antwerpen</text>
<text x="170.0" y="441.5">Zwijndrecht</text>
<text x="255.0" y="457.8">Borgerhout</text>
<text x="305.0" y="458.5">Deurne</text>
<text x="350.0" y="434.0">Wijnegem</text>
<text x="346.2" y="472.8">Wommelgem</text>
<text x="270.8" y="489.5">Berchem</text>
<text x="322.5" y="490.2">Borsbeek</text>
<text x="195.5" y="512.0">Hoboken</text>
<text x="298.0" y="515.2">Mortsel</text>
<text x="232.5" y="530.2">Wilrijk</text>
<text x="343.8" y="528.2">Boechout</text>
<text x="272.0" y="542.2">Edegem</text>
<text x="314.2" y="555.2">Hove</text>
<text x="188.0" y="561.0">Hemiksem</text>
<text x="227.5" y="577.0">Aartselaar</text>
<text x="188.0" y="590.2">Schelle</text>
<text x="281.2" y="590.2">Kontich</text>
<text x="331.2" y="590.2">Lint</text>
<text x="397.0" y="593.5">Lier</text>
<text x="187.5" y="614.8">Niel</text>
<text x="217.5" y="634.8">Boom</text>
<text x="270.8" y="640.8">Rumst</text>
<text x="370.5" y="631.0">Duffel</text>
<text x="225.8" y="670.2">Willebroek</text>
<text x="368.0" y="679.8">Sint-Katelijne-Waver</text>
<text x="280.8" y="730.2">Mechelen</text>
<text x="412.5" y="741.0">Bonheiden</text>
<text x="94.2" y="632.0">Bornem</text>
<text x="118.8" y="690.8">Puurs-Sint-Amands</text>
<text x="485.8" y="614.0">Berlaar</text>
<text x="553.0" y="643.5">Heist-op-den-Berg</text>
<text x="625.0" y="662.2">Hulshout</text>
<text x="468.0" y="697.2">Putte</text>
</g>
<rect x="26" y="20.2" width="1228.5" height="767.7" fill="none" stroke="#000" stroke-width="1.7"/>
<rect x="24.8" y="796.4" width="1229.7" height="82.3" fill="none" stroke="#000" stroke-width="1.7"/>
<!-- north arrow -->
<g fill="none" stroke="#000">
<path d="M1211.3,36.7 L1197.6,80.2" stroke-width="0.8"/>
<path d="M1211.3,36.7 L1227.3,81.6 L1212,75.7" stroke-width="1"/>
<path d="M1212,75.7 L1199.5,80.5" stroke-width="2.2"/>
</g>
<text x="1213.5" y="98.9" font-size="18" text-anchor="middle" fill="#000">N</text>
<!-- legend -->
<text x="1061.2" y="384.4" font-size="20" font-weight="bold" fill="#000" textLength="88" lengthAdjust="spacingAndGlyphs">Legende</text>
<text x="1061.6" y="417.8" font-size="17.2" font-weight="bold" fill="#000" textLength="108.4" lengthAdjust="spacingAndGlyphs">locaties2019</text>
<g stroke="#000" stroke-width="1.6">
<rect x="1061.5" y="429.5" width="43.5" height="21.3" fill="#FFFFBE"/>
<rect x="1061.5" y="458.4" width="43.5" height="21.3" fill="#FFEBAF"/>
<rect x="1061.5" y="487.3" width="43.5" height="21.3" fill="#D3FFBE"/>
<rect x="1061.5" y="516.2" width="43.5" height="21.3" fill="#A3FF73"/>
<rect x="1061.5" y="545.1" width="43.5" height="21.3" fill="#55FF00"/>
<rect x="1061.5" y="574.0" width="43.5" height="21.3" fill="#38A800"/>
<rect x="1061.5" y="602.9" width="43.5" height="21.3" fill="#267300"/>
<rect x="1061.5" y="631.8" width="43.5" height="21.3" fill="#FF0000"/>
<rect x="1061.5" y="660.7" width="43.5" height="21.3" fill="#A80000"/>
</g>
<rect x="1061.5" y="689.6" width="43.5" height="21.3" fill="#fff"/>
<rect x="1061.5" y="689.6" width="43.5" height="21.3" fill="url(#h)" stroke="#666" stroke-width="0.8"/>
<g font-size="15" fill="#111">
<text x="1111.4" y="445.3">1 - 5</text>
<text x="1111.4" y="474.2">6 - 10</text>
<text x="1111.4" y="503.1">11 - 20</text>
<text x="1111.4" y="532.0">21 - 40</text>
<text x="1111.4" y="560.9">41 - 60</text>
<text x="1111.4" y="589.8">61 - 80</text>
<text x="1111.4" y="618.7">81 - 100</text>
<text x="1111.4" y="647.6">101 - 120</text>
<text x="1111.4" y="676.5">&gt; 120</text>
<text x="1111.4" y="705.4">preventief gespoten</text>
</g>
<!-- scale bar -->
<rect x="946.8" y="742.2" width="266.8" height="8.4" fill="#fff" stroke="#000" stroke-width="1.2"/>
<rect x="946.8" y="742.2" width="68.3" height="8.4" fill="#000"/>
<rect x="1079.5" y="742.2" width="67.8" height="8.4" fill="#000"/>
<g font-size="15" fill="#111" text-anchor="middle">
<text x="947.5" y="734.8">0</text>
<text x="1014.3" y="734.8">5</text>
<text x="1080.8" y="734.8">10</text>
<text x="1146.5" y="734.8">15</text>
<text x="1204.6" y="734.8" text-anchor="start">20 km</text>
</g>
<text x="754.3" y="776.7" font-size="14.9" fill="#111" textLength="478" lengthAdjust="spacingAndGlyphs">Bron data: Interactieve eikenprocessierupsenkaart Provincie Antwerpen</text>
<!-- bottom box -->
<text x="1248.3" y="822.5" font-size="19" font-weight="bold" text-anchor="end" fill="#000" word-spacing="1.6" textLength="608.5" lengthAdjust="spacingAndGlyphs">Kaart 1: Aantal locaties met processierupsen in 2019</text>
<text x="1248" y="868.8" font-size="13.8" text-anchor="end" fill="#111" textLength="80" lengthAdjust="spacingAndGlyphs">april 2020</text>

<!-- logo -->
<g>
<polygon points="79.2,819 57.4,857.5 101.7,857.5" fill="#d8363f"/>
<polygon points="79.2,819 71.5,832.6 80,836 86.5,832" fill="#f07c2e"/>
<polygon points="71.5,832.6 65.5,843 78,846 84,838.5 80,836" fill="#ea4436"/>
<polygon points="86.5,832 80,836 84,838.5 92,841.5" fill="#e23c3a"/>
<polygon points="65.5,843 57.4,857.5 70,857.5 76,850 78,846" fill="#d62a68"/>
<polygon points="76,850 70,857.5 84,857.5 81,848" fill="#a51f45"/>
<polygon points="78,846 84,838.5 92,841.5 101.7,857.5 84,857.5 81,848" fill="#c92c3a"/>
</g>
<g fill="#4b3341" font-weight="bold">
<text x="111.8" y="840.6" font-size="15.6" textLength="76.5" lengthAdjust="spacingAndGlyphs">Provincie</text>
<text x="111.3" y="857.6" font-size="15.6" textLength="92" lengthAdjust="spacingAndGlyphs">Antwerpen</text>
</g>
<g fill="#5a3d4b">
<text x="220.6" y="839.3" font-size="13.6" letter-spacing="1.1" textLength="380" lengthAdjust="spacingAndGlyphs">DIENST DUURZAAM MILIEU- EN NATUURBELEID</text>
<text x="220.3" y="857" font-size="13.4" textLength="188.5" lengthAdjust="spacingAndGlyphs">Departement Leefmilieu</text>
</g>

</svg></body></html>
